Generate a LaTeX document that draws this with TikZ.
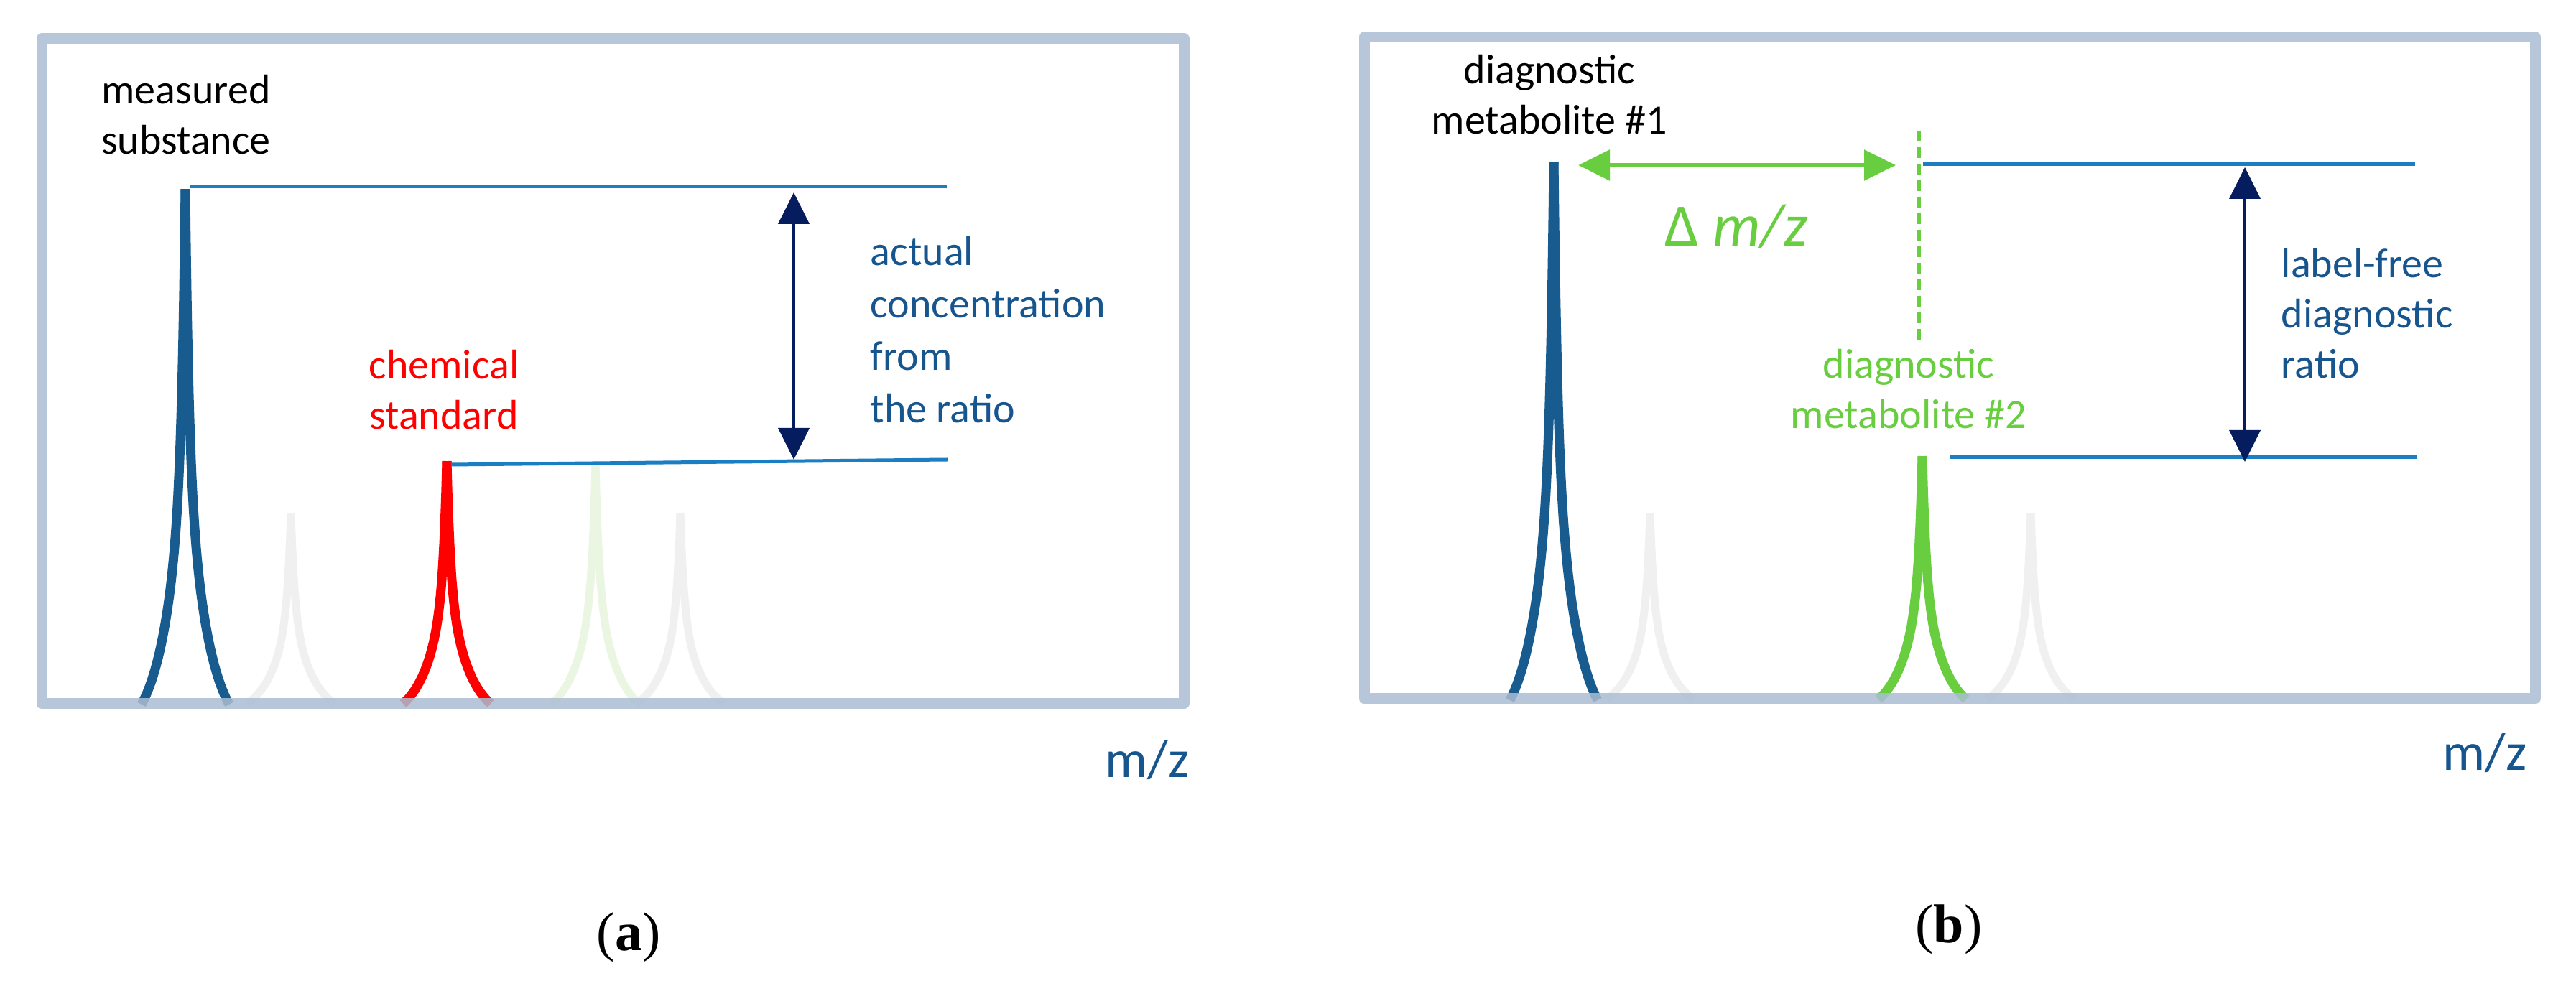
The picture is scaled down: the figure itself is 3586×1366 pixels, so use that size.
\documentclass[tikz,border=0pt]{standalone}
\usepackage{fontspec}
\setmainfont{Carlito}
\newfontfamily\capfont{Liberation Serif}
\usetikzlibrary{arrows.meta}
\definecolor{framec}{HTML}{ABBDD2}
\definecolor{pkblue}{HTML}{185C8F}
\definecolor{lnblue}{HTML}{1B7DC2}
\definecolor{navyc}{HTML}{051C5E}
\definecolor{grn}{HTML}{69CE3F}
\definecolor{pkgray}{HTML}{F0F0F0}
\definecolor{pkgrnf}{HTML}{EAF6E2}
\definecolor{txtblue}{HTML}{17558E}
\definecolor{pkred}{HTML}{FF0000}
% peak profile: relative height t(x) for half-width x (px), 0 at x=60
\newcommand\mspeak[5]{%
  \begin{scope}[shift={(#1,#2)}, yscale=#3]
    \draw[#4, line width=#5, line cap=butt] plot[domain=0:61, samples=90]
      ({-\x}, {-(0.45*exp(-\x/5)+0.55*exp(-\x/30)-0.0744)/0.9256});
    \draw[#4, line width=#5, line cap=butt] plot[domain=0:61, samples=90]
      ({\x}, {-(0.45*exp(-\x/5)+0.55*exp(-\x/30)-0.0744)/0.9256});
  \end{scope}}
\tikzset{
  framebox/.style={draw=framec, draw opacity=0.85, line width=3.75pt, line join=round},
  levelline/.style={draw=lnblue, line width=1.25pt},
  ratioarrow/.style={draw=navyc, line width=1pt,
     {Triangle[length=11pt,width=10.75pt,fill=navyc]}-{Triangle[length=11pt,width=10.75pt,fill=navyc]}},
  deltaarrow/.style={draw=grn, line width=1.5pt,
     {Triangle[length=11pt,width=10.5pt,fill=grn]}-{Triangle[length=11pt,width=10.5pt,fill=grn]}},
  lbl/.style={inner sep=0pt, font=\fontsize{14.5}{17.5}\selectfont},
  lblr/.style={inner sep=0pt, font=\fontsize{14.5}{18.25}\selectfont, text=txtblue, anchor=base west},
  axlbl/.style={inner sep=0pt, anchor=base west, font=\fontsize{18.5}{22}\selectfont, text=txtblue},
  caplbl/.style={inner sep=0pt, anchor=base, font=\capfont\fontsize{19}{23}\selectfont},
}
\begin{document}
\begin{tikzpicture}[x=0.25pt, y=-0.25pt]
\useasboundingbox[fill=white] (0,0) rectangle (3586,1366);

% ---------- panel (a) ----------
\mspeak{405}{979}{264}{pkgray}{2.75pt}
\mspeak{829}{979}{331}{pkgrnf}{2.75pt}
\mspeak{947}{979}{264}{pkgray}{2.75pt}
\mspeak{258}{979}{716}{pkblue}{3.25pt}
\mspeak{622}{979}{337}{pkred}{3.25pt}
\path[framebox] (58,54) rectangle (1648,980);

\coordinate (aT1) at (264,260);
\coordinate (aT2) at (1318,260);
\coordinate (aL1) at (628,647);
\coordinate (aL2) at (1319,640);
\coordinate (aA1) at (1105,268);
\coordinate (aA2) at (1105,640);
\draw[levelline] (aT1) -- (aT2);
\draw[levelline] (aL1) -- (aL2);
\draw[ratioarrow] (aA1) -- (aA2);

\node[lbl, anchor=base] (meas) at (259,145)
  {\begin{tabular}[t]{@{}c@{}}measured\\substance\end{tabular}};
\node[lbl, anchor=base, text=pkred] (chem) at (618,528)
  {\begin{tabular}[t]{@{}c@{}}chemical\\standard\end{tabular}};
\node[lblr] (actual) at (1211,370)
  {\begin{tabular}[t]{@{}l@{}}actual\\concentration\\from\\the ratio\end{tabular}};
\node[axlbl] (mza) at (1538,1083) {m/z};
\node[caplbl] (capa) at (875,1323) {(\textbf{a})};

% ---------- panel (b) ----------
\mspeak{2297}{973}{258}{pkgray}{2.75pt}
\mspeak{2827}{973}{258}{pkgray}{2.75pt}
\mspeak{2163}{973}{748}{pkblue}{3.25pt}
\mspeak{2676}{973}{338}{grn}{3.25pt}
\path[framebox] (1899,52) rectangle (3529,973);

\coordinate (bT1) at (2677,229);
\coordinate (bT2) at (3362,229);
\coordinate (bL1) at (2715,637);
\coordinate (bL2) at (3364,637);
\coordinate (bA1) at (3125,233);
\coordinate (bA2) at (3125,643);
\coordinate (gA1) at (2197,230);
\coordinate (gA2) at (2639,230);
\coordinate (dT) at (2671,182);
\coordinate (dB) at (2671,477);
\draw[levelline] (bT1) -- (bT2);
\draw[levelline] (bL1) -- (bL2);
\draw[ratioarrow] (bA1) -- (bA2);
\draw[deltaarrow] (gA1) -- (gA2);
\draw[grn, line width=1.25pt, dash pattern=on 3.75pt off 2pt] (dT) -- (dB);

\node[lbl, anchor=base] (dm1) at (2157,117)
  {\begin{tabular}[t]{@{}c@{}}diagnostic\\metabolite \#1\end{tabular}};
\node[inner sep=0pt, anchor=base, font=\fontsize{21}{25}\selectfont, text=grn] (dmz) at (2417,343)
  {Δ \textit{m/z}};
\node[lbl, anchor=base, text=grn] (dm2) at (2657,527)
  {\begin{tabular}[t]{@{}c@{}}diagnostic\\metabolite \#2\end{tabular}};
\node[lbl, text=txtblue, anchor=base west] (lfree) at (3175,387)
  {\begin{tabular}[t]{@{}l@{}}label-free\\diagnostic\\ratio\end{tabular}};
\node[axlbl] (mzb) at (3400,1073) {m/z};
\node[caplbl] (capb) at (2713,1312) {(\textbf{b})};
\end{tikzpicture}
\end{document}
